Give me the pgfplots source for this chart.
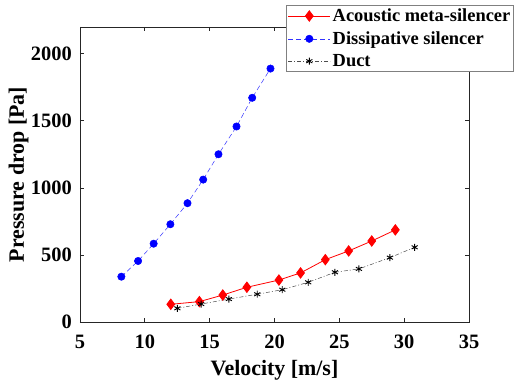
\documentclass[border=0pt]{standalone}
\usepackage{pgfplots}
\pgfplotsset{compat=1.18}
\usepackage{fontspec}
\setmainfont{Liberation Serif}
\begin{document}
\begin{tikzpicture}[x=1bp,y=1bp]
\begin{axis}[
  at={(0,0)}, anchor=south west,
  scale only axis, width=389bp, height=295bp,
  xmin=5, xmax=35, ymin=0, ymax=2200,
  xtick={5,10,...,35}, ytick={0,500,...,2000},
  tick align=inside, major tick length=4bp,
  axis line style={line width=0.8bp, black!85},
  every tick/.style={line width=0.8bp, black!85},
  /pgf/number format/assume math mode=true,
  /pgf/number format/1000 sep={},
  tick label style={font=\fontsize{20.5}{24}\selectfont\bfseries},
  xticklabel style={anchor=base, yshift=-26bp},
  yticklabel style={anchor=east, inner sep=0pt, xshift=-8bp},
  xlabel={\fontsize{22}{26}\selectfont\bfseries Velocity [m/s]},
  ylabel={\fontsize{22}{26}\selectfont\bfseries Pressure drop [Pa]},
  xlabel style={at={(axis description cs:0.5,-0.183)}, anchor=base},
  ylabel style={at={(axis description cs:-0.144,0.5)}, anchor=base},
  legend style={at={(axis description cs:0.5296,1.0746)}, anchor=north west,
    draw=black!50, line width=0.8bp, fill=white,
    font=\fontsize{18.5}{22}\selectfont\bfseries, inner sep=1.5bp,
    row sep=4.5bp, cells={anchor=west}},
  legend image code/.code={\draw[mark repeat=2,mark phase=2,#1] plot coordinates {(0bp,0bp) (21bp,0bp) (42bp,0bp)};},
]
\addplot[red, line width=0.8bp, mark=diamond*, mark size=5.2bp, mark options={solid, fill=red}]
 coordinates {(12.0,132) (14.21,152) (16.01,201) (17.87,259) (20.34,313) (22.01,366) (23.92,465) (25.72,530) (27.5,604) (29.32,687)};
\addlegendentry{Acoustic meta-silencer}
\addplot[blue!80!white, line width=0.5bp, dash pattern=on 5bp off 3bp, mark=*, mark size=3.7bp, mark options={solid, fill=blue, draw=blue}]
 coordinates {(8.19,338) (9.48,455) (10.68,584) (11.97,729) (13.29,886) (14.50,1062) (15.68,1251) (17.07,1458) (18.28,1672) (19.69,1890)};
\addlegendentry{Dissipative silencer}
\addplot[black!70, line width=0.5bp, dash pattern=on 4bp off 2bp on 1bp off 2bp, mark=asterisk, mark size=3.5bp, mark options={solid, black, line width=0.9bp}]
 coordinates {(12.51,102) (14.34,134) (16.48,171) (18.67,207) (20.6,241) (22.6,296) (24.66,371) (26.51,396) (28.9,480) (30.81,557)};
\addlegendentry{Duct}
\end{axis}
\pgfresetboundingbox
\useasboundingbox (-80bp,-61bp) rectangle (434bp,322bp);
\end{tikzpicture}
\end{document}
